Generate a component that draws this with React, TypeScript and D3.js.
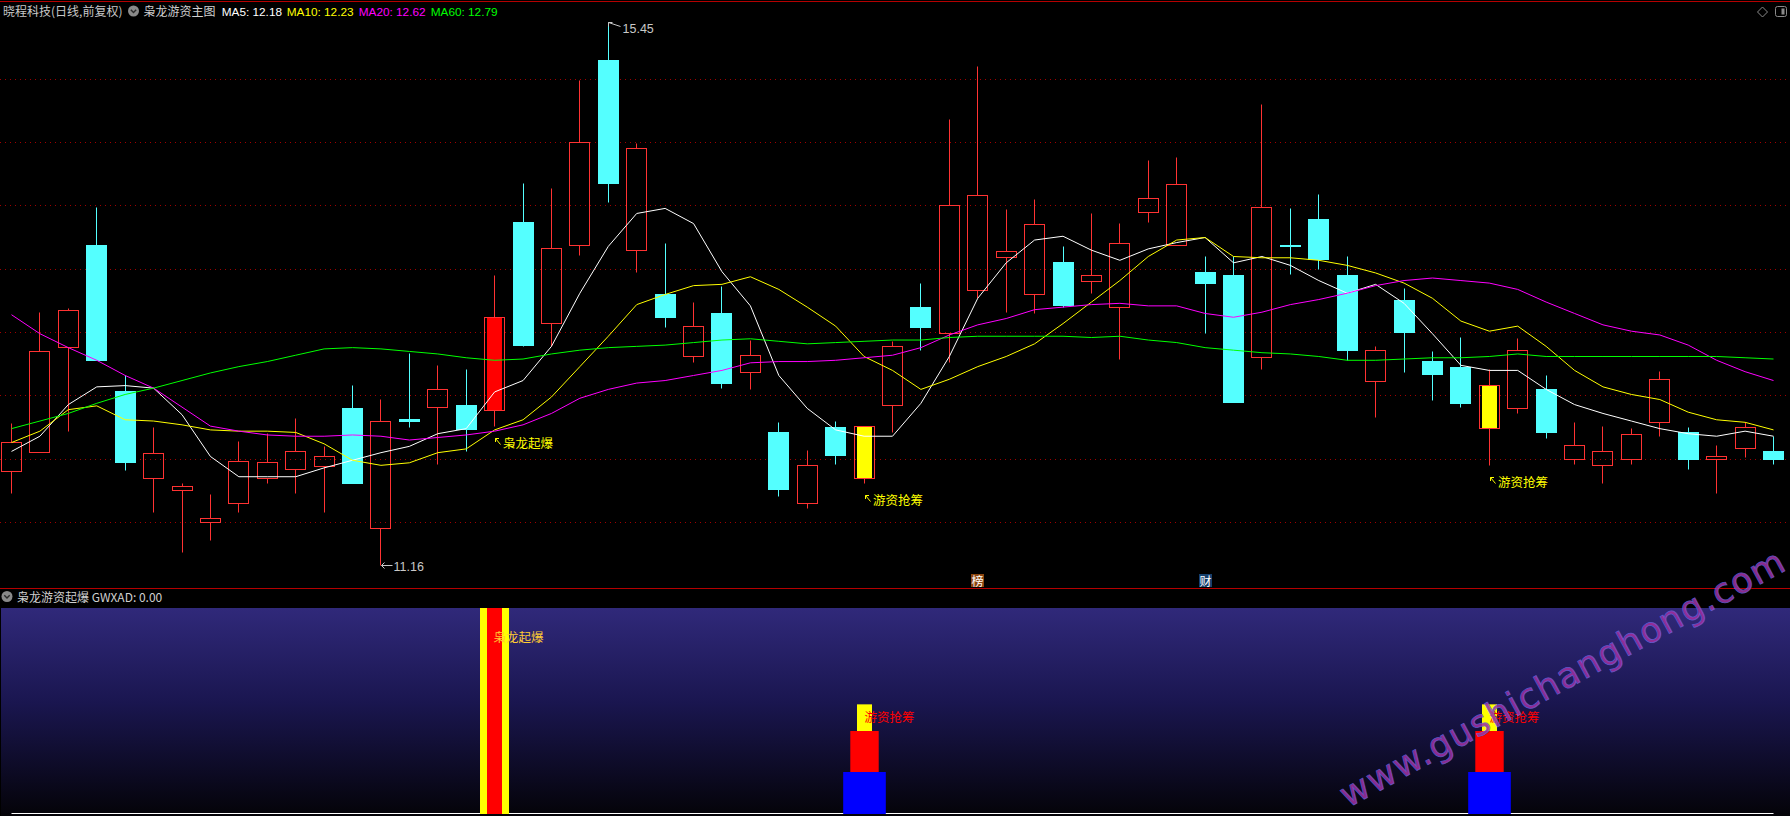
import React, { useEffect } from 'react';
import * as d3 from 'd3';

const W = 1790;
const H = 816;
const FONT = "'Liberation Sans', 'Noto Sans CJK SC', sans-serif";
const CJK = "'Noto Sans CJK SC', 'Liberation Sans', sans-serif";

// ---- daily K-line data (前复权) ----
const opens = [11.90, 12.05, 12.88, 13.69, 12.53, 11.85, 11.75, 11.50, 11.65, 11.85, 11.92, 11.94, 12.40, 11.45, 12.31, 12.41, 12.42, 12.38, 13.87, 13.07, 13.69, 15.15, 13.65, 13.30, 12.81, 13.15, 12.68, 12.21, 11.65, 12.25, 11.85, 12.42, 13.20, 12.99, 13.33, 13.59, 13.30, 13.55, 13.40, 13.20, 13.95, 13.69, 13.47, 13.45, 12.80, 13.69, 13.89, 13.45, 12.61, 13.25, 12.77, 12.72, 12.24, 12.40, 12.55, 12.00, 11.95, 12.00, 12.29, 12.21, 12.00, 12.08, 12.06];
const highs = [12.28, 13.16, 13.19, 13.99, 12.66, 12.25, 11.81, 11.72, 12.14, 12.20, 12.32, 12.10, 12.58, 12.47, 12.83, 12.74, 12.71, 13.45, 14.18, 14.14, 14.99, 15.45, 14.49, 13.70, 13.24, 13.36, 12.94, 12.29, 12.07, 12.30, 12.26, 12.93, 13.39, 14.68, 15.10, 13.97, 14.05, 13.68, 13.94, 13.86, 14.36, 14.38, 13.60, 13.60, 14.80, 13.98, 14.09, 13.60, 12.89, 13.35, 12.85, 12.96, 12.71, 12.95, 12.66, 12.29, 12.26, 12.24, 12.69, 12.25, 12.11, 12.29, 12.18];
const lows = [11.73, 12.05, 12.22, 12.78, 11.91, 11.58, 11.26, 11.36, 11.58, 11.81, 11.73, 11.58, 11.81, 11.16, 12.25, 11.96, 12.06, 12.26, 12.89, 12.89, 13.61, 14.03, 13.47, 13.04, 12.76, 12.56, 12.55, 11.70, 11.61, 11.96, 11.81, 12.21, 12.86, 12.76, 13.27, 13.16, 13.15, 13.20, 13.31, 12.79, 13.87, 13.69, 12.99, 12.45, 12.71, 13.46, 13.50, 12.78, 12.33, 12.68, 12.46, 12.41, 11.95, 12.36, 12.16, 11.96, 11.81, 11.96, 12.18, 11.92, 11.73, 12.01, 11.96];
const closes = [12.13, 12.85, 13.17, 12.78, 11.97, 12.04, 11.78, 11.53, 11.98, 11.97, 12.06, 12.02, 11.81, 12.30, 12.30, 12.55, 12.23, 13.12, 12.90, 13.66, 14.50, 14.18, 14.45, 13.12, 13.05, 12.60, 12.82, 11.76, 11.95, 12.03, 12.26, 12.89, 13.04, 14.00, 14.08, 13.64, 13.85, 13.21, 13.45, 13.70, 14.06, 14.17, 13.39, 12.45, 13.99, 13.68, 13.58, 12.86, 12.86, 13.00, 12.67, 12.44, 12.58, 12.86, 12.21, 12.11, 12.06, 12.19, 12.63, 12.00, 12.02, 12.25, 12.00];

// ---- moving averages ----
const ma5 = [12.06, 12.18, 12.43, 12.57, 12.58, 12.56, 12.35, 12.02, 11.86, 11.86, 11.86, 11.93, 11.99, 12.05, 12.10, 12.20, 12.24, 12.53, 12.62, 12.89, 13.31, 13.68, 13.94, 13.98, 13.86, 13.48, 13.21, 12.66, 12.40, 12.23, 12.18, 12.18, 12.44, 12.81, 13.27, 13.55, 13.73, 13.76, 13.65, 13.57, 13.66, 13.71, 13.75, 13.55, 13.60, 13.53, 13.41, 13.31, 13.38, 13.23, 12.99, 12.74, 12.70, 12.70, 12.55, 12.43, 12.36, 12.30, 12.24, 12.20, 12.18, 12.22, 12.18];
const ma10 = [12.13, 12.22, 12.39, 12.42, 12.31, 12.30, 12.27, 12.23, 12.22, 12.22, 12.21, 12.12, 11.99, 11.95, 11.97, 12.05, 12.08, 12.23, 12.31, 12.49, 12.73, 12.97, 13.22, 13.30, 13.37, 13.38, 13.44, 13.34, 13.20, 13.05, 12.81, 12.70, 12.55, 12.63, 12.73, 12.81, 12.91, 13.07, 13.24, 13.41, 13.60, 13.73, 13.75, 13.60, 13.59, 13.59, 13.57, 13.53, 13.47, 13.39, 13.27, 13.09, 13.01, 13.05, 12.89, 12.70, 12.57, 12.51, 12.47, 12.37, 12.31, 12.29, 12.23];
const ma20 = [13.14, 12.99, 12.88, 12.78, 12.66, 12.56, 12.41, 12.26, 12.22, 12.19, 12.18, 12.18, 12.19, 12.18, 12.15, 12.17, 12.19, 12.22, 12.27, 12.36, 12.48, 12.55, 12.60, 12.62, 12.66, 12.70, 12.76, 12.77, 12.77, 12.78, 12.80, 12.82, 12.88, 12.98, 13.06, 13.11, 13.18, 13.20, 13.22, 13.23, 13.21, 13.21, 13.15, 13.12, 13.16, 13.22, 13.26, 13.31, 13.37, 13.41, 13.43, 13.41, 13.39, 13.34, 13.24, 13.15, 13.06, 13.01, 12.98, 12.90, 12.78, 12.69, 12.62];
const ma60 = [12.24, 12.30, 12.36, 12.44, 12.51, 12.56, 12.62, 12.68, 12.73, 12.77, 12.82, 12.87, 12.88, 12.87, 12.85, 12.83, 12.80, 12.78, 12.79, 12.83, 12.86, 12.88, 12.89, 12.90, 12.92, 12.94, 12.95, 12.93, 12.91, 12.92, 12.93, 12.94, 12.94, 12.96, 12.97, 12.97, 12.97, 12.97, 12.96, 12.97, 12.94, 12.92, 12.88, 12.86, 12.84, 12.83, 12.81, 12.78, 12.78, 12.79, 12.80, 12.80, 12.81, 12.83, 12.81, 12.81, 12.81, 12.81, 12.81, 12.81, 12.81, 12.80, 12.79];

const priceTicks = [11.5, 12.0, 12.5, 13.0, 13.5, 14.0, 14.5, 15.0];

// ---- signals ----
const burstIdx = [17];          // 枭龙起爆
const youziIdx = [30, 52];      // 游资抢筹
const burstLabel = '枭龙起爆';
const youziLabel = '游资抢筹';
// sub-indicator levels (0..100)
const burstLevel = 100;
const youziLevels = [20, 40, 53]; // blue, red, yellow stacked tops
const burstTextLevel = 86;
const youziTextLevel = 47;
const gwxadLast = 0;

const badges = [
  { idx: 34, label: '榜', fill: '#8a4510' },
  { idx: 42, label: '财', fill: '#153f6c' },
];

const maDefs = [
  { name: 'MA5', data: ma5, color: '#ffffff' },
  { name: 'MA10', data: ma10, color: '#ffff00' },
  { name: 'MA20', data: ma20, color: '#ff00ff' },
  { name: 'MA60', data: ma60, color: '#00ff00' },
];

const UP = '#ff3232';
const DOWN = '#54ffff';
const GRID = '#a00000';
const BORDER = '#b40000';

export default function App() {
  useEffect(() => {
    document.body.style.margin = '0';
    document.body.style.background = '#000';
  }, []);

  const n = closes.length;
  const x = d3.scaleLinear().domain([0, n - 1]).range([11.5, 1773.5]);
  const y = d3.scaleLinear().domain([11.5, 15]).range([522.3, 79.3]);
  const yb = d3.scaleLinear().domain([0, 100]).range([813, 608]);
  const px = (i: number) => Math.round(x(i) - 0.5) + 0.5;
  const py = (v: number) => Math.round(y(v) - 0.5) + 0.5;
  const step = x(1) - x(0);
  const fmt = d3.format('.2f');

  const line = (data: number[]) =>
    d3.line<number>().x((_, i) => x(i)).y((d) => y(d))(data) || '';

  const hiI = d3.maxIndex(highs);
  const loI = d3.minIndex(lows);

  const maHeaderX = [221.7, 286.7, 358.7, 430.7];

  return (
    <svg
      width={W}
      height={H}
      style={{ position: 'absolute', left: 0, top: 0, display: 'block', background: '#000' }}
      fontFamily={FONT}
    >
      <defs>
        <linearGradient id="subbg" x1="0" y1="0" x2="0" y2="1">
          <stop offset="0%" stopColor="#30297a" />
          <stop offset="45%" stopColor="#1a1650" />
          <stop offset="100%" stopColor="#040308" />
        </linearGradient>
      </defs>
      <rect x={0} y={0} width={W} height={H} fill="#000" />

      {/* top border */}
      <line x1={0} x2={W} y1={1.5} y2={1.5} stroke={BORDER} />

      {/* grid */}
      {priceTicks.map((t) => (
        <line
          key={t}
          x1={0}
          x2={1786}
          y1={py(t)}
          y2={py(t)}
          stroke={GRID}
          strokeDasharray="1,4"
        />
      ))}

      {/* candles */}
      {closes.map((c, i) => {
        const o = opens[i];
        const h = highs[i];
        const l = lows[i];
        const cx = px(i);
        const top = py(Math.max(o, c));
        const bot = py(Math.min(o, c));
        const special = burstIdx.includes(i) ? 'burst' : youziIdx.includes(i) ? 'youzi' : null;
        if (c >= o) {
          return (
            <g key={i}>
              <line x1={cx} x2={cx} y1={py(h)} y2={top} stroke={UP} />
              <line x1={cx} x2={cx} y1={bot} y2={py(l)} stroke={UP} />
              {special && (
                <rect
                  x={cx - 7.5}
                  y={top - 0.5}
                  width={15}
                  height={bot - top + 1}
                  fill={special === 'burst' ? '#ff0000' : '#ffff00'}
                />
              )}
              <rect x={cx - 10} y={top} width={20} height={Math.max(bot - top, 1)} fill="none" stroke={UP} />
            </g>
          );
        }
        return (
          <g key={i}>
            <line x1={cx} x2={cx} y1={py(h)} y2={py(l)} stroke={DOWN} />
            <rect x={cx - 10.5} y={top - 0.5} width={21} height={Math.max(bot - top, 1) + 1} fill={DOWN} />
          </g>
        );
      })}

      {/* moving averages */}
      {maDefs.map((m) => (
        <path key={m.name} d={line(m.data)} fill="none" stroke={m.color} strokeWidth={1} />
      ))}

      {/* high / low labels */}
      <g stroke="#c8c8c8" fill="none" strokeWidth={1}>
        <path d={`M${px(hiI)},${py(highs[hiI])} L${px(hiI) + 12},${py(highs[hiI]) + 4} M${px(hiI)},${py(highs[hiI])} l0,4 M${px(hiI)},${py(highs[hiI])} l4,0`} />
        <path d={`M${px(loI) + 1},${py(lows[loI])} L${px(loI) + 12},${py(lows[loI])} M${px(loI) + 1},${py(lows[loI])} l3,-3 M${px(loI) + 1},${py(lows[loI])} l3,3`} />
      </g>
      <text x={px(hiI) + 14} y={py(highs[hiI]) + 10} fill="#c8c8c8" fontSize={12.5}>
        {fmt(highs[hiI])}
      </text>
      <text x={px(loI) + 13} y={py(lows[loI]) + 5} fill="#c8c8c8" fontSize={12.5}>
        {fmt(lows[loI])}
      </text>

      {/* signal labels under candles */}
      {[...burstIdx.map((i) => ({ i, t: burstLabel })), ...youziIdx.map((i) => ({ i, t: youziLabel }))].map(({ i, t }) => {
        const cx = px(i);
        const ly = py(lows[i]) + 16;
        return (
          <g key={'lab' + i}>
            <path
              d={`M${cx + 1},${ly - 4} L${cx + 6},${ly + 2} M${cx + 1},${ly - 4} l0,3.5 M${cx + 1},${ly - 4} l3.5,0`}
              stroke="#ffff00"
              fill="none"
            />
            <text x={cx + 8.5} y={ly} dominantBaseline="central" fill="#ffff00" fontSize={12.5} fontFamily={CJK}>
              {t}
            </text>
          </g>
        );
      })}

      {/* event badges */}
      {badges.map((b) => (
        <g key={b.label}>
          <rect x={px(b.idx) - 6.5} y={574} width={13} height={13} fill={b.fill} />
          <text x={px(b.idx)} y={580.5} textAnchor="middle" dominantBaseline="central" fill="#ffffff" fontSize={12} fontFamily={CJK}>
            {b.label}
          </text>
        </g>
      ))}

      {/* header */}
      <text x={3} y={16} fill="#c8c8c8" fontSize={12} fontFamily={CJK}>
        晓程科技(日线,前复权)
      </text>
      <circle cx={133.5} cy={11} r={5.5} fill="#8a8a8a" />
      <path d="M130.8,9.8 L133.5,12.5 L136.2,9.8" stroke="#2a2a2a" strokeWidth={1.4} fill="none" />
      <text x={143.5} y={16} fill="#d0d0d0" fontSize={12} fontFamily={CJK}>
        枭龙游资主图
      </text>
      {maDefs.map((m, k) => (
        <text key={m.name} x={maHeaderX[k]} y={16} fill={m.color} fontSize={11.8}>
          {`${m.name}: ${fmt(m.data[m.data.length - 1])}`}
        </text>
      ))}

      {/* top right icons */}
      <path d="M1762.5,7 L1767.5,12 L1762.5,17 L1757.5,12 Z" stroke="#8a8a8a" fill="none" />
      <rect x={1775.5} y={6.5} width={11} height={10} rx={2} stroke="#8a8a8a" fill="none" />
      <rect x={1781.5} y={8.5} width={3} height={6} fill="#8a8a8a" />

      {/* panel separator */}
      <line x1={0} x2={W} y1={588.5} y2={588.5} stroke={BORDER} />

      {/* sub panel */}
      <circle cx={7} cy={596.5} r={5.5} fill="#8a8a8a" />
      <path d="M4.3,595.3 L7,598 L9.7,595.3" stroke="#2a2a2a" strokeWidth={1.4} fill="none" />
      <text x={17} y={601.5} fill="#d0d0d0" fontSize={12} fontFamily={CJK}>
        {`枭龙游资起爆 GWXAD: ${fmt(gwxadLast)}`}
      </text>
      <rect x={1} y={608} width={W - 1} height={H - 608} fill="url(#subbg)" />
      <line x1={x(0)} x2={x(n - 1)} y1={813.5} y2={813.5} stroke="#ffffff" />

      {burstIdx.map((i) => {
        const cx = px(i);
        return (
          <g key={'sb' + i}>
            <rect x={cx - 14.5} y={yb(burstLevel)} width={29} height={yb(0) - yb(burstLevel) + 1} fill="#ffff00" />
            <rect x={cx - 7.5} y={yb(burstLevel)} width={15} height={yb(0) - yb(burstLevel) + 1} fill="#ff0000" />
            <text x={cx - 1} y={yb(burstTextLevel)} dominantBaseline="central" fill="#ffcc33" fontSize={12.5} fontFamily={CJK}>
              {burstLabel}
            </text>
          </g>
        );
      })}
      {youziIdx.map((i) => {
        const cx = px(i);
        const [b, r, yl] = youziLevels;
        return (
          <g key={'sy' + i}>
            <rect x={cx - step * 0.75} y={yb(b)} width={step * 1.5} height={yb(0) - yb(b) + 1} fill="#0000ff" />
            <rect x={cx - step / 2} y={yb(r)} width={step} height={yb(b) - yb(r)} fill="#ff0000" />
            <rect x={cx - 7.5} y={yb(yl)} width={15} height={yb(r) - yb(yl)} fill="#ffff00" />
            <text x={cx} y={yb(youziTextLevel)} dominantBaseline="central" fill="#ff0000" fontSize={12.5} fontFamily={CJK}>
              {youziLabel}
            </text>
          </g>
        );
      })}

      {/* watermark */}
      <text
        transform="translate(1348,808) rotate(-28.5)"
        fontSize={35}
        fontFamily="'DejaVu Sans', Verdana, sans-serif"
        textLength={500}
        lengthAdjust="spacing"
        fill="#a0309e"
        stroke="#6a5fd8"
        strokeWidth={0.8}
        opacity={0.88}
      >
        www.gushichanghong.com
      </text>
    </svg>
  );
}
